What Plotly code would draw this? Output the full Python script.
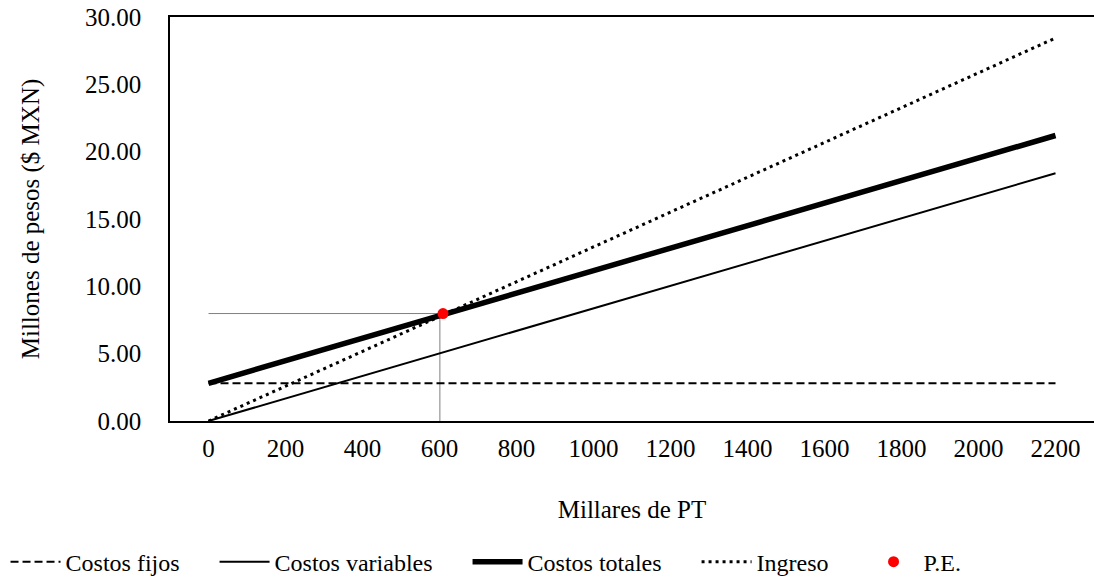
import plotly.graph_objects as go

unidades = [0, 200, 400, 600, 800, 1000, 1200, 1400, 1600, 1800, 2000, 2200]
costos_fijos = [2.80] * 12
costos_variables = [0.00, 1.67, 3.35, 5.02, 6.69, 8.36, 10.04, 11.71, 13.38, 15.06, 16.73, 18.40]
costos_totales = [2.80, 4.47, 6.15, 7.82, 9.49, 11.16, 12.84, 14.51, 16.18, 17.86, 19.53, 21.20]
ingreso = [0.00, 2.59, 5.17, 7.76, 10.34, 12.93, 15.51, 18.10, 20.69, 23.27, 25.86, 28.44]
pe_x = [609]
pe_y = [7.98]

FONT = "'Liberation Serif', Tinos, 'DejaVu Serif', serif"
FS = 25
PAD = "\u00a0" * 5

fig = go.Figure()
# guide lines to the break-even point
fig.add_trace(go.Scatter(x=[unidades[0], pe_x[0]], y=[pe_y[0], pe_y[0]], mode="lines",
                         line=dict(color="#808080", width=1), showlegend=False, hoverinfo="skip"))
fig.add_trace(go.Scatter(x=[pe_x[0] - 8, pe_x[0] - 8], y=[0, pe_y[0]], mode="lines",
                         line=dict(color="#808080", width=1), showlegend=False, hoverinfo="skip"))

fig.add_trace(go.Scatter(x=unidades, y=costos_fijos, mode="lines", name="Costos fijos" + PAD,
                         line=dict(color="black", width=2, dash="8px,4px")))
fig.add_trace(go.Scatter(x=unidades, y=costos_variables, mode="lines", name="Costos variables" + PAD,
                         line=dict(color="black", width=2)))
fig.add_trace(go.Scatter(x=unidades, y=costos_totales, mode="lines", name="Costos totales" + PAD,
                         line=dict(color="black", width=5.5)))
fig.add_trace(go.Scatter(x=unidades, y=ingreso, mode="lines", name="Ingreso" + PAD,
                         line=dict(color="black", width=3, dash="3px,4px")))
fig.add_trace(go.Scatter(x=pe_x, y=pe_y, mode="markers", name="P.E.",
                         marker=dict(color="#ff0000", size=11)))

fig.update_layout(
    width=1094, height=581,
    margin=dict(l=170, r=0, t=17, b=160, autoexpand=False),
    paper_bgcolor="white", plot_bgcolor="white",
    font=dict(family=FONT, size=FS, color="black"),
    showlegend=True,
    legend=dict(orientation="h", xref="paper", x=-0.178, xanchor="left",
                yref="paper", y=-0.405, yanchor="bottom",
                font=dict(family=FONT, size=24, color="black"), itemwidth=50,
                tracegroupgap=0),
    xaxis=dict(
        range=[-100, 2300], tickmode="array", tickvals=unidades,
        ticktext=[str(u) for u in unidades], automargin=False,
        showgrid=False, zeroline=False, showline=True, linecolor="black", linewidth=1.5,
        mirror=True, ticks="", ticklabelstandoff=4,
        tickfont=dict(family=FONT, size=FS, color="black"),
        title=dict(text="Millares de PT", font=dict(family=FONT, size=FS, color="black"), standoff=40),
    ),
    yaxis=dict(
        range=[0, 30], dtick=5, tickformat=".2f", automargin=False,
        showgrid=False, zeroline=False, showline=True, linecolor="black", linewidth=1.5,
        mirror=True, ticks="", ticklabelstandoff=22,
        tickfont=dict(family=FONT, size=FS, color="black"),
        title=dict(text="Millones de pesos ($ MXN)", font=dict(family=FONT, size=FS, color="black"), standoff=38),
    ),
)

fig.write_html("out.html", post_script="document.body.style.margin='0px';",
               config={"displayModeBar": False})
